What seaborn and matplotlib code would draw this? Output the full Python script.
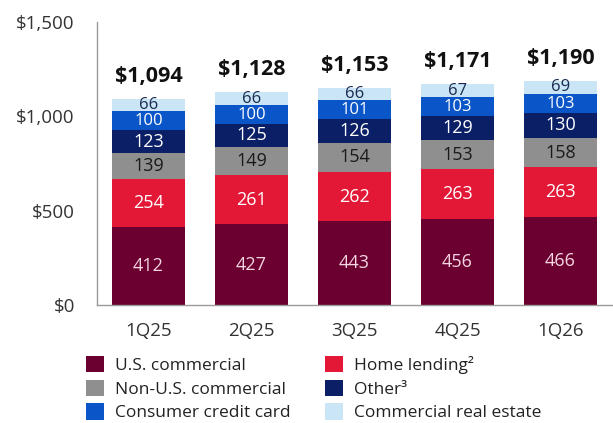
import numpy as np
import pandas as pd
import matplotlib
matplotlib.use("Agg")
import matplotlib.pyplot as plt
import seaborn as sns
from matplotlib.patches import Patch

quarters = ["1Q25", "2Q25", "3Q25", "4Q25", "1Q26"]
us_commercial = [412, 427, 443, 456, 466]
home_lending = [254, 261, 262, 263, 263]
non_us_commercial = [139, 149, 154, 153, 158]
other = [123, 125, 126, 129, 130]
consumer_card = [100, 100, 101, 103, 103]
commercial_re = [66, 66, 66, 67, 69]
totals = [1094, 1128, 1153, 1171, 1190]

series = [
    ("U.S. commercial", us_commercial, "#6b0030", "#f3d6e0"),
    ("Home lending\u00b2", home_lending, "#e31837", "#ffffff"),
    ("Non-U.S. commercial", non_us_commercial, "#8f8f8f", "#1a1a1a"),
    ("Other\u00b3", other, "#0a1f66", "#ffffff"),
    ("Consumer credit card", consumer_card, "#0a56c8", "#ffffff"),
    ("Commercial real estate", commercial_re, "#c9e5f6", "#1a2a50"),
]

sns.set_theme(style="white")
plt.rcParams["font.family"] = ["Open Sans", "DejaVu Sans"]

fig = plt.figure(figsize=(6.13, 4.23), dpi=100)
ax = fig.add_axes([97 / 613, 1 - 305 / 423, 515 / 613, 283 / 423])

# cumulative stacks, drawn from the tallest down so each layer shows its own band
cums = np.cumsum(np.array([s[1] for s in series]), axis=0)
for i in range(len(series) - 1, -1, -1):
    df = pd.DataFrame({"q": quarters, "v": cums[i]})
    sns.barplot(data=df, x="q", y="v", color=series[i][2], saturation=1,
                width=0.71, ax=ax, linewidth=0)

# segment values; the two thin top bands get a slightly smaller face
for i, (name, vals, col, tcol) in enumerate(series):
    for j, v in enumerate(vals):
        bottom = cums[i][j] - v
        ymid = bottom + v / 2
        size = 13
        if i == len(series) - 1:
            ymid -= 1
            size = 12
        elif i == len(series) - 2:
            ymid -= 3
            size = 12
        ax.text(j, ymid, f"{v}", ha="center", va="center", color=tcol,
                fontsize=size)

for j, t in enumerate(totals):
    ax.text(j, t + 118, f"${t:,}", ha="center", va="center", fontsize=15.5,
            fontweight="bold", color="#111111")

ax.set_xlim(-0.5, 4.5)
ax.set_ylim(0, 1500)
ax.set_yticks([0, 500, 1000, 1500])
ax.set_yticklabels(["$0", "$500", "$1,000", "$1,500"])
ax.set_xlabel("")
ax.set_ylabel("")
ax.tick_params(axis="both", length=0, labelsize=13.5, colors="#333333")
ax.tick_params(axis="x", pad=12)
ax.tick_params(axis="y", pad=16)
for s in ["top", "right"]:
    ax.spines[s].set_visible(False)
for s in ["left", "bottom"]:
    ax.spines[s].set_color("#9a9a9a")
    ax.spines[s].set_linewidth(1)

handles = [Patch(facecolor=s[2], edgecolor="none", label=s[0]) for s in series]
order = [0, 2, 4, 1, 3, 5]
fig.legend([handles[k] for k in order], [series[k][0] for k in order],
           loc="upper left", bbox_to_anchor=(86 / 613, 1 - 356 / 423), ncol=2,
           frameon=False, fontsize=12.5, handlelength=1.05, handleheight=1.05,
           handletextpad=0.6, columnspacing=2.0, labelspacing=0.33,
           borderaxespad=0, borderpad=0, labelcolor="#222222")

fig.savefig("out.png", dpi=100)
